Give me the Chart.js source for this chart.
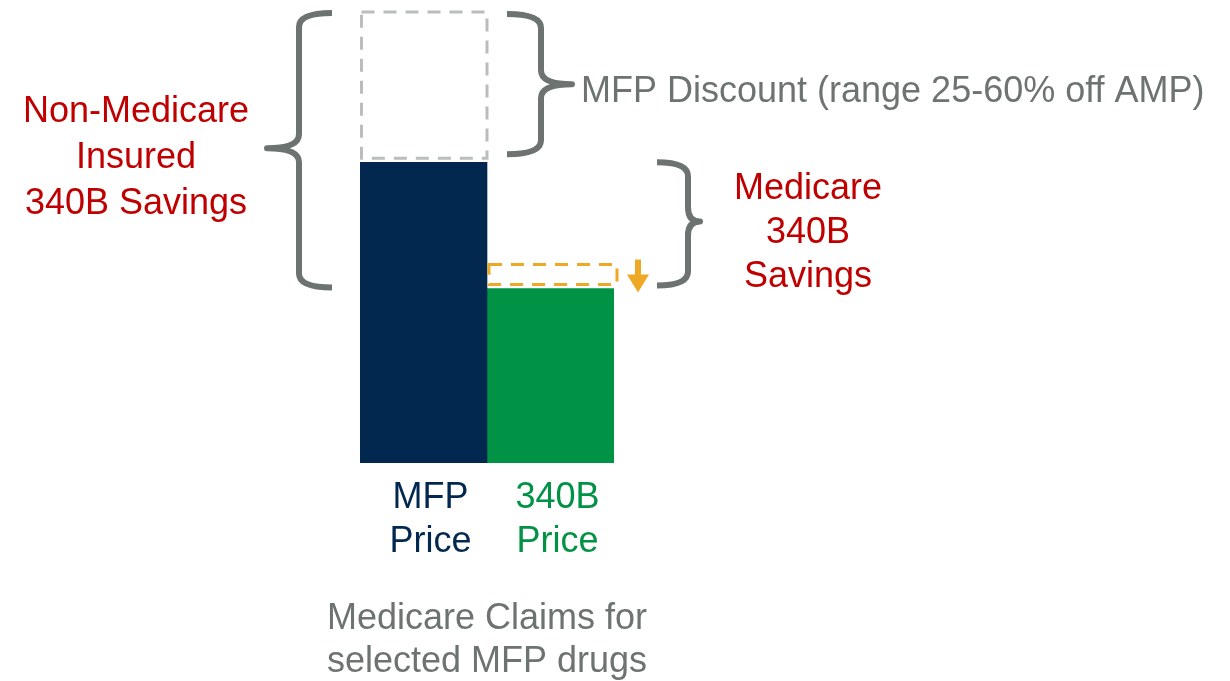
<!DOCTYPE html>
<html>
<head>
<meta charset="utf-8">
<script src="https://cdn.jsdelivr.net/npm/chart.js@4"></script>
<style>
  html, body { margin: 0; padding: 0; background: #ffffff; }
  #wrap { width: 1230px; height: 681px; position: relative; }
</style>
</head>
<body>
<div id="wrap"><canvas id="c" width="1230" height="681"></canvas></div>
<script>
// ---- data ----
const categories = [["MFP", "Price"], ["340B", "Price"]];
const mfpPrice = [100, null];
const price340B = [null, 58];
const mfpDiscount = [50, null];
const medicareSavings = [null, 8];
const axisTitle = ["Medicare Claims for", "selected MFP drugs"];
const nonMedicareLabel = ["Non-Medicare", "Insured", "340B Savings"];
const medicareLabel = ["Medicare", "340B", "Savings"];
const discountLabel = "MFP Discount (range 25-60% off AMP)";

const NAVY = "#03284F";
const GREEN = "#009245";
const GREY_DASH = "#B9BEBB";
const ORANGE = "#EFA823";
const BRACE = "#6D7370";
const RED = "#C00000";
const FONT = "'Liberation Sans', Arial, sans-serif";
const FS = 36;

function brace(ctx, endX, spineX, tipX, top, bottom, tipY) {
  const r = 14;
  ctx.save();
  ctx.strokeStyle = BRACE;
  ctx.lineWidth = 6;
  ctx.lineCap = "butt";
  ctx.lineJoin = "round";
  ctx.beginPath();
  ctx.moveTo(endX, top);
  ctx.quadraticCurveTo(spineX, top, spineX, top + r);
  ctx.lineTo(spineX, tipY - r);
  ctx.quadraticCurveTo(spineX, tipY, tipX, tipY);
  ctx.quadraticCurveTo(spineX, tipY, spineX, tipY + r);
  ctx.lineTo(spineX, bottom - r);
  ctx.quadraticCurveTo(spineX, bottom, endX, bottom);
  ctx.stroke();
  ctx.restore();
}

function lines(ctx, arr, cx, y0, lh, color, align) {
  ctx.save();
  ctx.fillStyle = color;
  ctx.font = FS + "px " + FONT;
  ctx.textAlign = align || "center";
  ctx.textBaseline = "middle";
  arr.forEach((t, i) => ctx.fillText(t, cx, y0 + i * lh));
  ctx.restore();
}

const annot = {
  id: "annot",
  afterDatasetsDraw(chart) {
    const ctx = chart.ctx;
    const ys = chart.scales.y;
    const ca = chart.chartArea;
    const mfpBar = chart.getDatasetMeta(0).data[0];
    const disc = chart.getDatasetMeta(2).data[0];
    const med = chart.getDatasetMeta(3).data[1];

    // dashed discount box
    ctx.save();
    ctx.setLineDash([13, 9]);
    ctx.lineWidth = 3;
    ctx.strokeStyle = GREY_DASH;
    let l = disc.x - disc.width / 2, r = disc.x + disc.width / 2;
    ctx.strokeRect(l + 1.5, disc.y, r - l - 1.5, disc.base - disc.y - 4);
    // dashed medicare savings box
    ctx.strokeStyle = ORANGE;
    l = med.x - med.width / 2; r = med.x + med.width / 2;
    ctx.strokeRect(l + 2, med.y, r - l + 1, med.base - med.y - 4);
    ctx.restore();

    // orange arrow
    const ax = r + 24;
    ctx.save();
    ctx.fillStyle = ORANGE;
    ctx.fillRect(ax - 3, med.y - 5, 6, 18);
    ctx.beginPath();
    ctx.moveTo(ax - 11, med.y + 10);
    ctx.lineTo(ax + 11, med.y + 10);
    ctx.lineTo(ax, med.base + 4);
    ctx.closePath();
    ctx.fill();
    ctx.restore();

    // left brace (whole stack)
    const left = ca.left;
    const topAll = ys.getPixelForValue(mfpPrice[0] + mfpDiscount[0]);
    const top340 = ys.getPixelForValue(price340B[1]);
    brace(ctx, left - 28, left - 61, left - 93, topAll + 1, top340 - 1, (topAll + top340) / 2 - 2);

    // discount brace
    const mfpRight = mfpBar.x + mfpBar.width / 2;
    const mfpTop = ys.getPixelForValue(mfpPrice[0]);
    brace(ctx, mfpRight + 20, mfpRight + 54, mfpRight + 85, topAll + 2, mfpTop - 8, (topAll + mfpTop) / 2 - 3);

    // medicare brace
    brace(ctx, mfpRight + 170, mfpRight + 201, mfpRight + 213, mfpTop, top340 - 3, (mfpTop + top340) / 2 - 4);

    // labels
    lines(ctx, nonMedicareLabel, 136, 112, 46, RED);
    lines(ctx, medicareLabel, 808, 189, 44, RED);
    lines(ctx, [discountLabel], mfpRight + 94, 92, 44, BRACE, "left");

    // axis title
    lines(ctx, axisTitle, (ca.left + ca.right) / 2, ca.bottom + 156, 43, BRACE);
  }
};

new Chart(document.getElementById("c"), {
  type: "bar",
  data: {
    labels: categories,
    datasets: [
      { label: "MFP Price", data: mfpPrice, backgroundColor: NAVY, borderWidth: 0 },
      { label: "340B Price", data: price340B, backgroundColor: GREEN, borderWidth: 0 },
      { label: "MFP Discount", data: mfpDiscount, backgroundColor: "rgba(0,0,0,0)", borderWidth: 0 },
      { label: "Medicare 340B Savings", data: medicareSavings, backgroundColor: "rgba(0,0,0,0)", borderWidth: 0 }
    ]
  },
  options: {
    responsive: false,
    animation: false,
    events: [],
    layout: { padding: { left: 360, right: 616, top: 12, bottom: 112 } },
    datasets: { bar: { barPercentage: 1, categoryPercentage: 1, skipNull: true } },
    plugins: { legend: { display: false }, tooltip: { enabled: false } },
    scales: {
      x: {
        stacked: true,
        grid: { display: false },
        border: { display: false },
        ticks: {
          padding: 5,
          labelOffset: 7,
          font: { family: FONT, size: FS, lineHeight: 44 / FS },
          color: (c) => (c.index === 0 ? NAVY : GREEN)
        }
      },
      y: {
        stacked: true,
        display: false,
        min: 0,
        max: 150
      }
    }
  },
  plugins: [annot]
});
</script>
</body>
</html>
